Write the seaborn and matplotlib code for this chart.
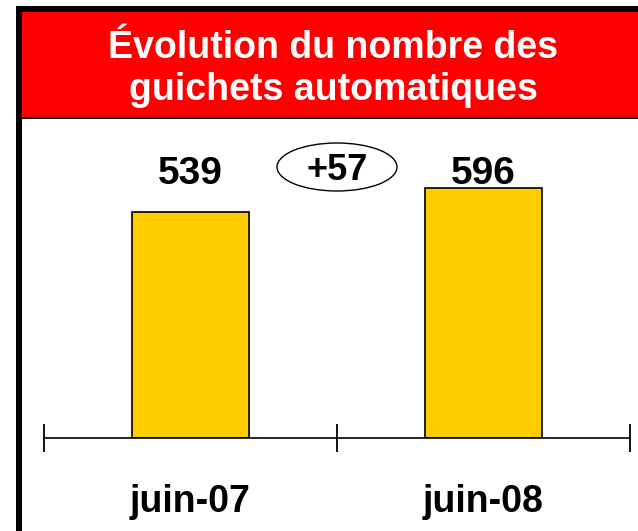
import matplotlib
matplotlib.use('Agg')
import matplotlib.pyplot as plt
import matplotlib.patches as mpatches
import seaborn as sns
import pandas as pd

# Données
periodes = ['juin-07', 'juin-08']
guichets = [539, 596]
titre = 'Évolution du nombre des\nguichets automatiques'

sns.set_style('white')
plt.rcParams['font.family'] = ['Liberation Sans', 'DejaVu Sans']
plt.rcParams['text.color'] = 'black'
plt.rcParams['xtick.color'] = 'black'

W, H = 638, 531
fig = plt.figure(figsize=(W / 100, H / 100), dpi=100)


def px_rect(x0, y0, x1, y1, color):
    # rectangle en pixels (origine en haut à gauche)
    r = mpatches.Rectangle((x0 / W, 1 - y1 / H), (x1 - x0) / W, (y1 - y0) / H,
                           transform=fig.transFigure, facecolor=color,
                           edgecolor='none', zorder=0)
    fig.add_artist(r)


# cadre + bandeau rouge
px_rect(16, 6, 22, H, 'black')
px_rect(16, 6, W, 12, 'black')
px_rect(22, 12, W, 117, '#FF0000')
px_rect(22, 117, W, 119, 'black')
fig.text(333 / W, 1 - 69 / H, titre, color='white', fontsize=27,
         fontweight='bold', ha='center', va='center', linespacing=1.25)

# zone du graphique
ax_left, ax_right, ax_top, ax_bottom = 44, 630, 119, 438
ax = fig.add_axes([ax_left / W, 1 - ax_bottom / H,
                   (ax_right - ax_left) / W, (ax_bottom - ax_top) / H])
ax.patch.set_alpha(0)

df = pd.DataFrame({'periode': periodes, 'guichets': guichets})
sns.barplot(data=df, x='periode', y='guichets', color='#FFCC00', saturation=1,
            edgecolor='black', linewidth=1.2, width=0.4, ax=ax)

ax.set_xlim(-0.5, 1.5)
ax.set_ylim(0, 762)
ax.set_xlabel('')
ax.set_ylabel('')
ax.set_yticks([])
for s in ['left', 'right', 'top']:
    ax.spines[s].set_visible(False)
ax.spines['bottom'].set_linewidth(1.2)
ax.spines['bottom'].set_color('black')

ax.set_xticks(range(len(periodes)))
ax.set_xticklabels(periodes, fontsize=27, fontweight='bold')
ax.tick_params(axis='x', which='major', length=0, pad=33)
ax.set_xticks([-0.5, 0.5, 1.5], minor=True)
ax.tick_params(axis='x', which='minor', bottom=True, direction='inout',
               length=20, width=1.3, color='black')

# valeurs au-dessus des barres
tr = ax.get_xaxis_transform()
for i, v in enumerate(guichets):
    ax.text(i, (ax_bottom - 184) / (ax_bottom - ax_top), str(v), transform=tr,
            ha='center', va='baseline', fontsize=28, fontweight='bold')

# écart dans l'ellipse
ecart = guichets[1] - guichets[0]
ey = (ax_bottom - 167) / (ax_bottom - ax_top)
ell = mpatches.Ellipse((0.5, ey), 120 / 293, 48 / (ax_bottom - ax_top),
                       transform=tr, facecolor='white', edgecolor='black',
                       linewidth=1.0, zorder=5)
ax.add_patch(ell)
ax.text(0.5, (ax_bottom - 180) / (ax_bottom - ax_top), f'+{ecart}',
        transform=tr, ha='center', va='baseline', fontsize=26,
        fontweight='bold', zorder=6)

fig.savefig('out.png', dpi=100)
